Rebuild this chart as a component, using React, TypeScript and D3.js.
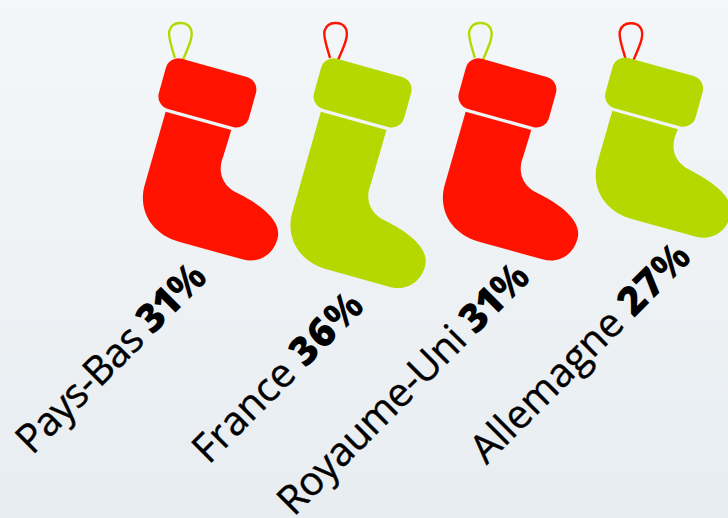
import React from "react";
import * as d3 from "d3";

const countries = ["Pays-Bas", "France", "Royaume-Uni", "Allemagne"];
const shares = [31, 36, 31, 27];
const bodyColors = ["#ff1300", "#b5d800", "#ff1300", "#b5d800"];
const loopColors = ["#b5d800", "#ff1300", "#b5d800", "#ff1300"];
const originX = [169.3, 324.5, 469.3, 616];
const originY = [55.4, 55.4, 55.4, 54.6];
const loopShift = [0, 0, 0, 4];
const labelEndX = [209, 366, 532, 693];
const labelEndY = [279, 308, 279, 259];
const nameSpacing = [-0.6, 0.1, -0.4, 0.2];
const digitSpacing = [-1.6, 1.4, -1.6, 0.4];

const W = 728, H = 518;
const ANGLE = 15.5;
// stocking depth (sole, along the leg axis) proportional to the value
const depth = d3.scaleLinear().domain([0, 31]).range([0, 177]);

function stockingPath(v: number) {
  const d = depth(v) - depth(31);
  const p = d3.path();
  p.moveTo(11.5, 55.2);
  p.lineTo(79.7, 55.4);
  p.lineTo(79, 83 + d);
  p.bezierCurveTo(78, 90 + d, 79, 102 + d, 90, 109.7 + d);
  p.bezierCurveTo(95, 113 + d, 100, 114 + d, 105, 115 + d);
  p.bezierCurveTo(125, 119 + d, 151, 128 + d, 153, 145 + d);
  p.bezierCurveTo(155, 160 + d, 145, 177 + d, 125, 177 + d);
  p.lineTo(60, 177 + d);
  p.bezierCurveTo(28, 177 + d, 10, 155 + d, 11, 130 + d);
  p.closePath();
  return p.toString();
}

function cuffPath() {
  const p = d3.path();
  const w = 93.5, h = 52, r = 13;
  p.moveTo(r, 0);
  p.arcTo(w, 0, w, h, r);
  p.arcTo(w, h, 0, h, r);
  p.arcTo(0, h, 0, 0, r);
  p.arcTo(0, 0, w, 0, r);
  p.closePath();
  return p.toString();
}

function loopPath() {
  const p = d3.path();
  p.moveTo(6, 1);
  p.bezierCurveTo(2, -6, -7, -18, -6.5, -24);
  p.bezierCurveTo(-6, -35, 8, -37, 13, -32);
  p.bezierCurveTo(19, -26, 16, -12, 14, 3);
  return p.toString();
}

export default function App() {
  return (
    <svg width={W} height={H} viewBox={`0 0 ${W} ${H}`}
      style={{ position: "absolute", left: 0, top: 0, display: "block" }}>
      <defs>
        <linearGradient id="bg" x1="0" y1="0" x2="0" y2="1">
          <stop offset="0" stopColor="#f4f7f9" />
          <stop offset="1" stopColor="#e8edf1" />
        </linearGradient>
      </defs>
      <rect width={W} height={H} fill="url(#bg)" />
      {countries.map((c, i) => (
        <g key={c}>
          <g transform={`translate(${originX[i]},${originY[i]}) rotate(${ANGLE})`}>
            <path d={loopPath()} transform={`translate(${loopShift[i]},0)`} fill="none" stroke={loopColors[i]} strokeWidth={2.4} />
            <path d={stockingPath(shares[i])} fill={bodyColors[i]} />
            <path d={cuffPath()} fill={bodyColors[i]} />
          </g>
          <text transform={`translate(${labelEndX[i]},${labelEndY[i]}) rotate(-45)`}
            textAnchor="end" fontFamily="'Open Sans', sans-serif" fontSize={40} fill="#000">
            <tspan fontWeight={400} letterSpacing={nameSpacing[i]} stroke="#000" strokeWidth={0.4}>{c} </tspan>
            <tspan fontWeight={800} letterSpacing={digitSpacing[i]}>{shares[i]}</tspan>
            <tspan fontWeight={700} letterSpacing={0}>%</tspan>
          </text>
        </g>
      ))}
    </svg>
  );
}
